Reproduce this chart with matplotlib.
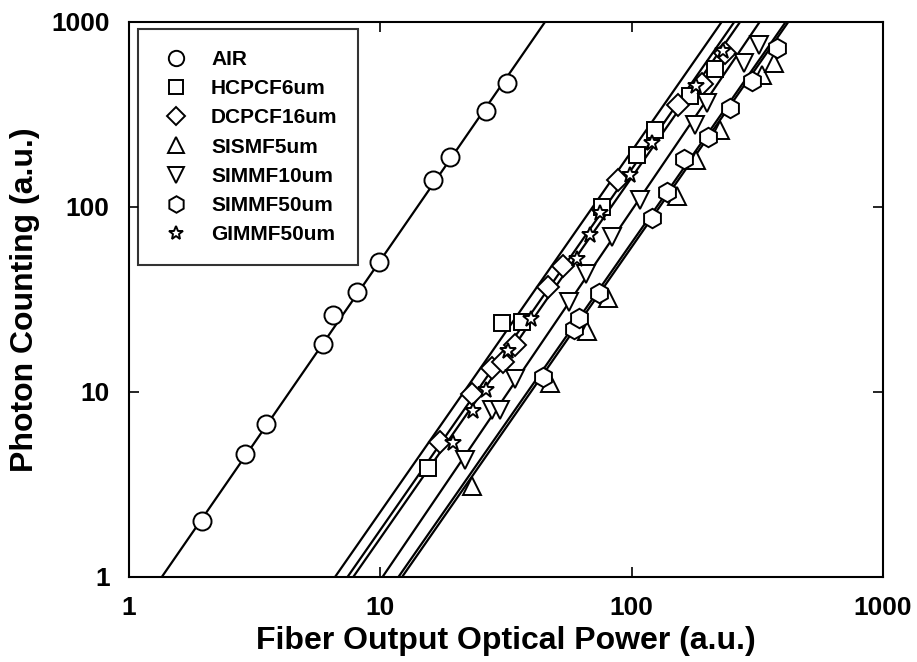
import numpy as np
import matplotlib
matplotlib.use('Agg')
import matplotlib.pyplot as plt

plt.rcParams['font.family'] = ['Liberation Sans', 'DejaVu Sans']
plt.rcParams['font.weight'] = 'bold'

# measured points (optical power, photon counts)
air_x = [1.95, 2.9, 3.5, 5.9, 6.5, 8.1, 9.9, 16.2, 18.9, 26.3, 31.9]
air_y = [2.0, 4.6, 6.7, 18.2, 26.1, 34.7, 50.4, 140, 186, 330, 468]

hcpcf_x = [15.5, 30.4, 36.5, 75.9, 105, 124, 170, 215]
hcpcf_y = [3.9, 23.7, 24.0, 100, 191, 261, 400, 560]

dcpcf_x = [17.3, 23.1, 27.8, 30.8, 34.4, 46.6, 53.5, 88.5, 153, 190, 235]
dcpcf_y = [5.4, 9.8, 13.4, 14.6, 17.9, 36.8, 48.0, 140, 356, 460, 680]

sismf_x = [23.1, 47.3, 66.5, 80.6, 151, 181, 225, 330, 370]
sismf_y = [3.1, 11.2, 21.4, 32.2, 114, 180, 261, 520, 600]

simmf10_x = [21.7, 27.8, 29.9, 34.4, 56.5, 65.8, 83.3, 108, 179, 199, 280, 320]
simmf10_y = [4.3, 8.0, 8.0, 11.8, 30.8, 43.4, 69.1, 109, 277, 364, 600, 750]

simmf50_x = [44.3, 58.9, 62.0, 73.8, 120, 138, 161, 202, 246, 300, 380]
simmf50_y = [12.0, 21.9, 25.1, 34.2, 86.9, 121, 181, 240, 341, 480, 720]

gimmf_x = [19.5, 23.4, 26.3, 32.2, 39.8, 60.4, 68.3, 74.8, 98.6, 120, 180, 230]
gimmf_y = [5.3, 7.9, 10.3, 16.7, 24.7, 52.2, 70.6, 92.5, 149, 221, 450, 700]

# fitted power laws: x where the fit gives 1 count, and where it gives 1000
fit_x_lo = [1.35, 6.6, 7.4, 12.2, 10.2, 11.8, 7.8]
fit_x_hi = [45.2, 228, 256, 420, 323, 410, 270]

labels = ['AIR', 'HCPCF6um', 'DCPCF16um', 'SISMF5um', 'SIMMF10um',
          'SIMMF50um', 'GIMMF50um']
markers = ['o', 's', 'D', '^', 'v', 'h', '*']
sizes = [13, 12, 11, 13, 13, 14, 12]

series = [(air_x, air_y), (hcpcf_x, hcpcf_y), (dcpcf_x, dcpcf_y),
          (sismf_x, sismf_y), (simmf10_x, simmf10_y),
          (simmf50_x, simmf50_y), (gimmf_x, gimmf_y)]

fig = plt.figure(figsize=(9.17, 6.62), dpi=100)
ax = fig.add_axes([0.1407, 0.1284, 0.8222, 0.8384])

for (xs, ys), lab, mk, ms, xlo, xhi in zip(series, labels, markers, sizes,
                                          fit_x_lo, fit_x_hi):
    fx = np.array([xlo, xhi])
    ax.plot(fx, [1, 1000], color='black', lw=1.6, zorder=2)
    ax.plot(xs, ys, ls='none', marker=mk, ms=ms, mfc='white', mec='black',
            mew=1.4, zorder=3, label=lab)

ax.set_xscale('log')
ax.set_yscale('log')
ax.set_xlim(1, 1000)
ax.set_ylim(1, 1000)
ax.set_xticks([1, 10, 100, 1000])
ax.set_xticklabels(['1', '10', '100', '1000'])
ax.set_yticks([1, 10, 100, 1000])
ax.set_yticklabels(['1', '10', '100', '1000'])
ax.minorticks_off()
ax.tick_params(which='major', direction='in', length=7, width=1.2,
               labelsize=19, pad=14, top=True, right=True)
for sp in ax.spines.values():
    sp.set_linewidth(1.5)

ax.set_xlabel('Fiber Output Optical Power (a.u.)', fontsize=23,
              fontweight='bold', labelpad=4)
ax.set_ylabel('Photon Counting (a.u.)', fontsize=23, fontweight='bold',
              labelpad=8)

leg = ax.legend(loc='upper left', bbox_to_anchor=(0.012, 0.987),
                frameon=True, fancybox=False, edgecolor='black',
                prop={'size': 15, 'weight': 'bold'}, markerscale=0.85,
                handlelength=1.6, handletextpad=0.9, labelspacing=0.49,
                borderpad=1.0, borderaxespad=0)
leg.get_frame().set_linewidth(1.5)

fig.savefig('out.png', dpi=100)
